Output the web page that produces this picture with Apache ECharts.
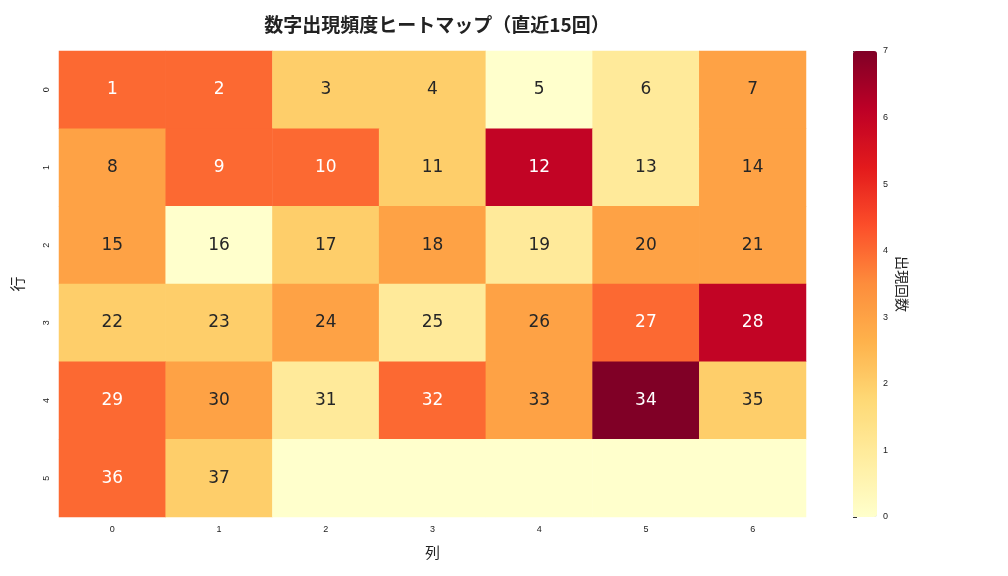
<!DOCTYPE html>
<html><head><meta charset="utf-8">
<script src="https://cdn.jsdelivr.net/npm/echarts@6/dist/echarts.min.js"></script>
<style>body{margin:0}#main{width:1008px;height:576px}</style>
</head><body><div id="main"></div>
<script>
var cols = ['0', '1', '2', '3', '4', '5', '6'];
var rows = ['0', '1', '2', '3', '4', '5'];
// 各セルの出現回数 (行ごと)
var counts = [
  [4, 4, 2, 2, 0, 1, 3],
  [3, 4, 4, 2, 6, 1, 3],
  [3, 0, 2, 3, 1, 3, 3],
  [2, 2, 3, 1, 3, 4, 6],
  [4, 3, 1, 4, 3, 7, 2],
  [4, 2, 0, 0, 0, 0, 0]
];
var maxNumber = 37;
var colors = ['#ffffcc', '#ffeda0', '#fed976', '#feb24c', '#fd8d3c', '#fc4e2a', '#e31a1c', '#bd0026', '#800026'];

var data = [];
rows.forEach(function (r, i) {
  cols.forEach(function (c, j) {
    var n = i * 7 + j + 1;
    var v = counts[i][j];
    data.push({
      value: [j, i, v, n <= maxNumber ? n : ''],
      label: { color: v >= 4 ? '#ffffff' : '#262626' }
    });
  });
});

var myChart = echarts.init(document.getElementById('main'));
option = {
  title: {
    text: '数字出現頻度ヒートマップ（直近15回）',
    left: 432, top: 10, textAlign: 'center',
    textStyle: { fontSize: 19, fontWeight: 'bold', color: '#222', fontFamily: 'Noto Sans CJK JP' }
  },
  grid: [
    { left: 59, top: 51, width: 747, height: 466 },
    { left: 853, top: 51, width: 24, height: 466 }
  ],
  xAxis: [{
    type: 'category', data: cols, gridIndex: 0, position: 'bottom',
    name: '列', nameLocation: 'middle', nameGap: 28,
    nameTextStyle: { fontSize: 15, color: '#222', fontFamily: 'Noto Sans CJK JP' },
    axisLine: { show: false }, axisTick: { length: 4, lineStyle: { color: '#333' }, alignWithLabel: true },
    axisLabel: { fontSize: 9, color: '#222' }, splitLine: { show: false }
  }, {
    type: 'value', gridIndex: 1, show: false, min: 0, max: 1
  }],
  yAxis: [{
    type: 'category', data: rows, gridIndex: 0, inverse: true,
    name: '行', nameLocation: 'middle', nameGap: 34,
    nameTextStyle: { fontSize: 15, color: '#222', fontFamily: 'Noto Sans CJK JP' },
    axisLine: { show: false }, axisTick: { length: 4, lineStyle: { color: '#333' }, alignWithLabel: true },
    axisLabel: { fontSize: 9, color: '#222', rotate: 90 }, splitLine: { show: false }
  }, {
    type: 'value', gridIndex: 1, position: 'right', min: 0, max: 7, interval: 1,
    name: '出現回数', nameLocation: 'middle', nameGap: 18, nameRotate: -90,
    nameTextStyle: { fontSize: 14, color: '#222', fontFamily: 'Noto Sans CJK JP' },
    axisLine: { show: false }, axisTick: { show: true, length: 4, lineStyle: { color: '#333' } },
    axisLabel: { fontSize: 9, color: '#222', margin: 6 }, splitLine: { show: false }
  }],
  visualMap: {
    type: 'continuous', min: 0, max: 7, dimension: 2, seriesIndex: 0,
    left: 853, top: 51, itemWidth: 24, itemHeight: 466, padding: 0,
    calculable: false, text: ['', ''], showLabel: false,
    inRange: { color: colors }
  },
  series: [{
    type: 'heatmap', xAxisIndex: 0, yAxisIndex: 0, data: data,
    label: {
      show: true, fontSize: 17, fontFamily: 'DejaVu Sans',
      formatter: function (p) { return p.value[3]; }
    },
    emphasis: { disabled: true }
  }, {
    type: 'scatter', xAxisIndex: 1, yAxisIndex: 1, data: []
  }]
};
myChart.setOption(option);
</script>
</body></html>
